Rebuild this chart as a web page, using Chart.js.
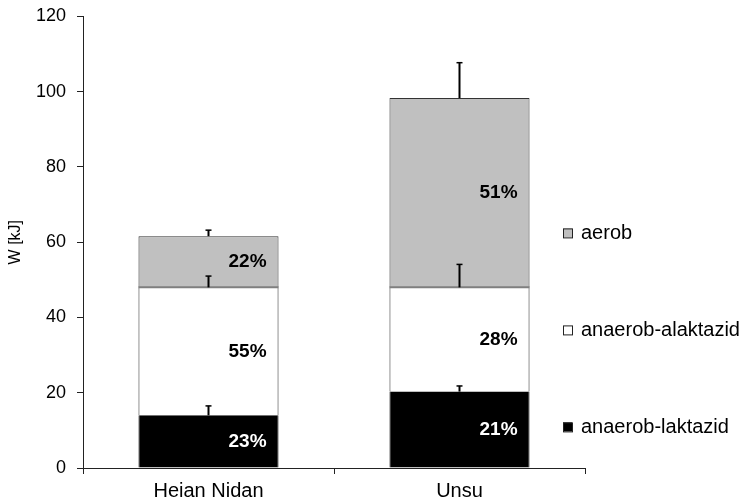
<!DOCTYPE html>
<html>
<head>
<meta charset="utf-8">
<script src="https://cdn.jsdelivr.net/npm/chart.js@4/dist/chart.umd.min.js"></script>
<style>
  html, body { margin: 0; padding: 0; background: #fff; }
  #wrap { width: 747px; height: 503px; }
</style>
</head>
<body>
<div id="wrap"><canvas id="c" width="747" height="503"></canvas></div>
<script>
// Work per kata, split by energy system (kJ)
const categories = ['Heian Nidan', 'Unsu'];
const anaerobLaktazid = [14.0, 20.3];
const anaerobAlaktazid = [34.0, 27.7];
const aerob = [13.6, 50.3];
// upper standard deviations (kJ)
const sdLaktazid = [2.5, 1.5];
const sdAlaktazid = [3.0, 6.1];
const sdAerob = [1.6, 9.4];
const yTicks = [0, 20, 40, 60, 80, 100, 120];

const FONT = 'Arial, "Liberation Sans", sans-serif';

const totals = categories.map((_, i) => anaerobLaktazid[i] + anaerobAlaktazid[i] + aerob[i]);

// error bars, share labels, segment separators and the legend
const decorations = {
  id: 'decorations',
  afterDatasetsDraw(chart) {
    const ctx = chart.ctx;
    const y = chart.scales.y;
    const area = chart.chartArea;
    ctx.save();

    // grey separator line under the aerob segment
    const gMeta = chart.getDatasetMeta(2);
    gMeta.data.forEach(el => {
      ctx.strokeStyle = '#7f7f7f';
      ctx.lineWidth = 2;
      ctx.beginPath();
      ctx.moveTo(el.x - el.width / 2, el.base);
      ctx.lineTo(el.x + el.width / 2, el.base);
      ctx.stroke();
    });

    // share labels (percent of total)
    chart.data.datasets.forEach((ds, di) => {
      const meta = chart.getDatasetMeta(di);
      meta.data.forEach((el, i) => {
        const pct = Math.round(ds.data[i] / totals[i] * 100) + '%';
        ctx.font = 'bold 19px ' + FONT;
        ctx.fillStyle = di === 0 ? '#ffffff' : '#000000';
        ctx.textAlign = 'right';
        ctx.textBaseline = 'middle';
        ctx.fillText(pct, el.x + el.width / 2 - 12, (el.y + el.base) / 2);
      });
    });

    // upward error bars
    chart.data.datasets.forEach((ds, di) => {
      const meta = chart.getDatasetMeta(di);
      meta.data.forEach((el, i) => {
        const yEnd = y.getPixelForValue(y.getValueForPixel(el.y) + ds.sd[i]);
        ctx.strokeStyle = '#000';
        ctx.lineWidth = 2;
        ctx.beginPath();
        ctx.moveTo(el.x, el.y);
        ctx.lineTo(el.x, yEnd);
        ctx.stroke();
        ctx.lineWidth = 1.5;
        ctx.beginPath();
        ctx.moveTo(el.x - 3, yEnd);
        ctx.lineTo(el.x + 3, yEnd);
        ctx.stroke();
      });
    });

    // legend, top item = top segment
    const items = [2, 1, 0];
    const lx = area.right - 22;
    items.forEach((di, k) => {
      const ds = chart.data.datasets[di];
      const cy = area.top + 217 + k * 97;
      ctx.fillStyle = ds.backgroundColor;
      ctx.fillRect(lx, cy - 5, 9, 9);
      ctx.strokeStyle = '#222';
      ctx.lineWidth = 1;
      ctx.strokeRect(lx + 0.5, cy - 4.5, 9, 9);
      ctx.fillStyle = '#000';
      ctx.font = '20px ' + FONT;
      ctx.textAlign = 'left';
      ctx.textBaseline = 'middle';
      ctx.fillText(ds.label, lx + 18, cy);
    });
    ctx.restore();
  }
};

new Chart(document.getElementById('c'), {
  type: 'bar',
  data: {
    labels: categories,
    datasets: [
      { label: 'anaerob-laktazid', data: anaerobLaktazid, sd: sdLaktazid,
        backgroundColor: '#000000', borderColor: '#000000',
        borderWidth: { top: 0, left: 1, right: 1, bottom: 0 } },
      { label: 'anaerob-alaktazid', data: anaerobAlaktazid, sd: sdAlaktazid,
        backgroundColor: '#ffffff', borderColor: '#222222',
        borderWidth: { top: 0, left: 1, right: 1, bottom: 0 } },
      { label: 'aerob', data: aerob, sd: sdAerob,
        backgroundColor: '#c0c0c0', borderColor: '#333333',
        borderWidth: { top: 1, left: 1, right: 1, bottom: 0 } }
    ]
  },
  options: {
    responsive: false,
    animation: false,
    layout: { padding: { top: 16, right: 162, left: 0, bottom: 0 } },
    datasets: { bar: { categoryPercentage: 1.0, barPercentage: 0.558, borderSkipped: false } },
    plugins: { legend: { display: false }, tooltip: { enabled: false } },
    scales: {
      x: {
        stacked: true,
        grid: { display: true, drawOnChartArea: false, offset: true, tickLength: 6, color: '#222', lineWidth: 1 },
        border: { display: true, color: '#222', width: 1 },
        ticks: { color: '#000', font: { family: FONT, size: 20 }, padding: 5, maxRotation: 0 },
        afterFit(scale) { scale.height = 35; }
      },
      y: {
        stacked: true,
        min: 0, max: 120,
        afterBuildTicks(scale) { scale.ticks = yTicks.map(v => ({ value: v })); },
        grid: { display: true, drawOnChartArea: false, tickLength: 6, color: '#222', lineWidth: 1 },
        border: { display: true, color: '#222', width: 1 },
        ticks: { color: '#000', font: { family: FONT, size: 18, lineHeight: 0.6 }, padding: 11 },
        title: { display: true, text: 'W [kJ]', color: '#000', font: { family: FONT, size: 16 }, padding: { top: 6, bottom: 0 } },
        afterFit(scale) { scale.width = 83; }
      }
    }
  },
  plugins: [decorations]
});
</script>
</body>
</html>
